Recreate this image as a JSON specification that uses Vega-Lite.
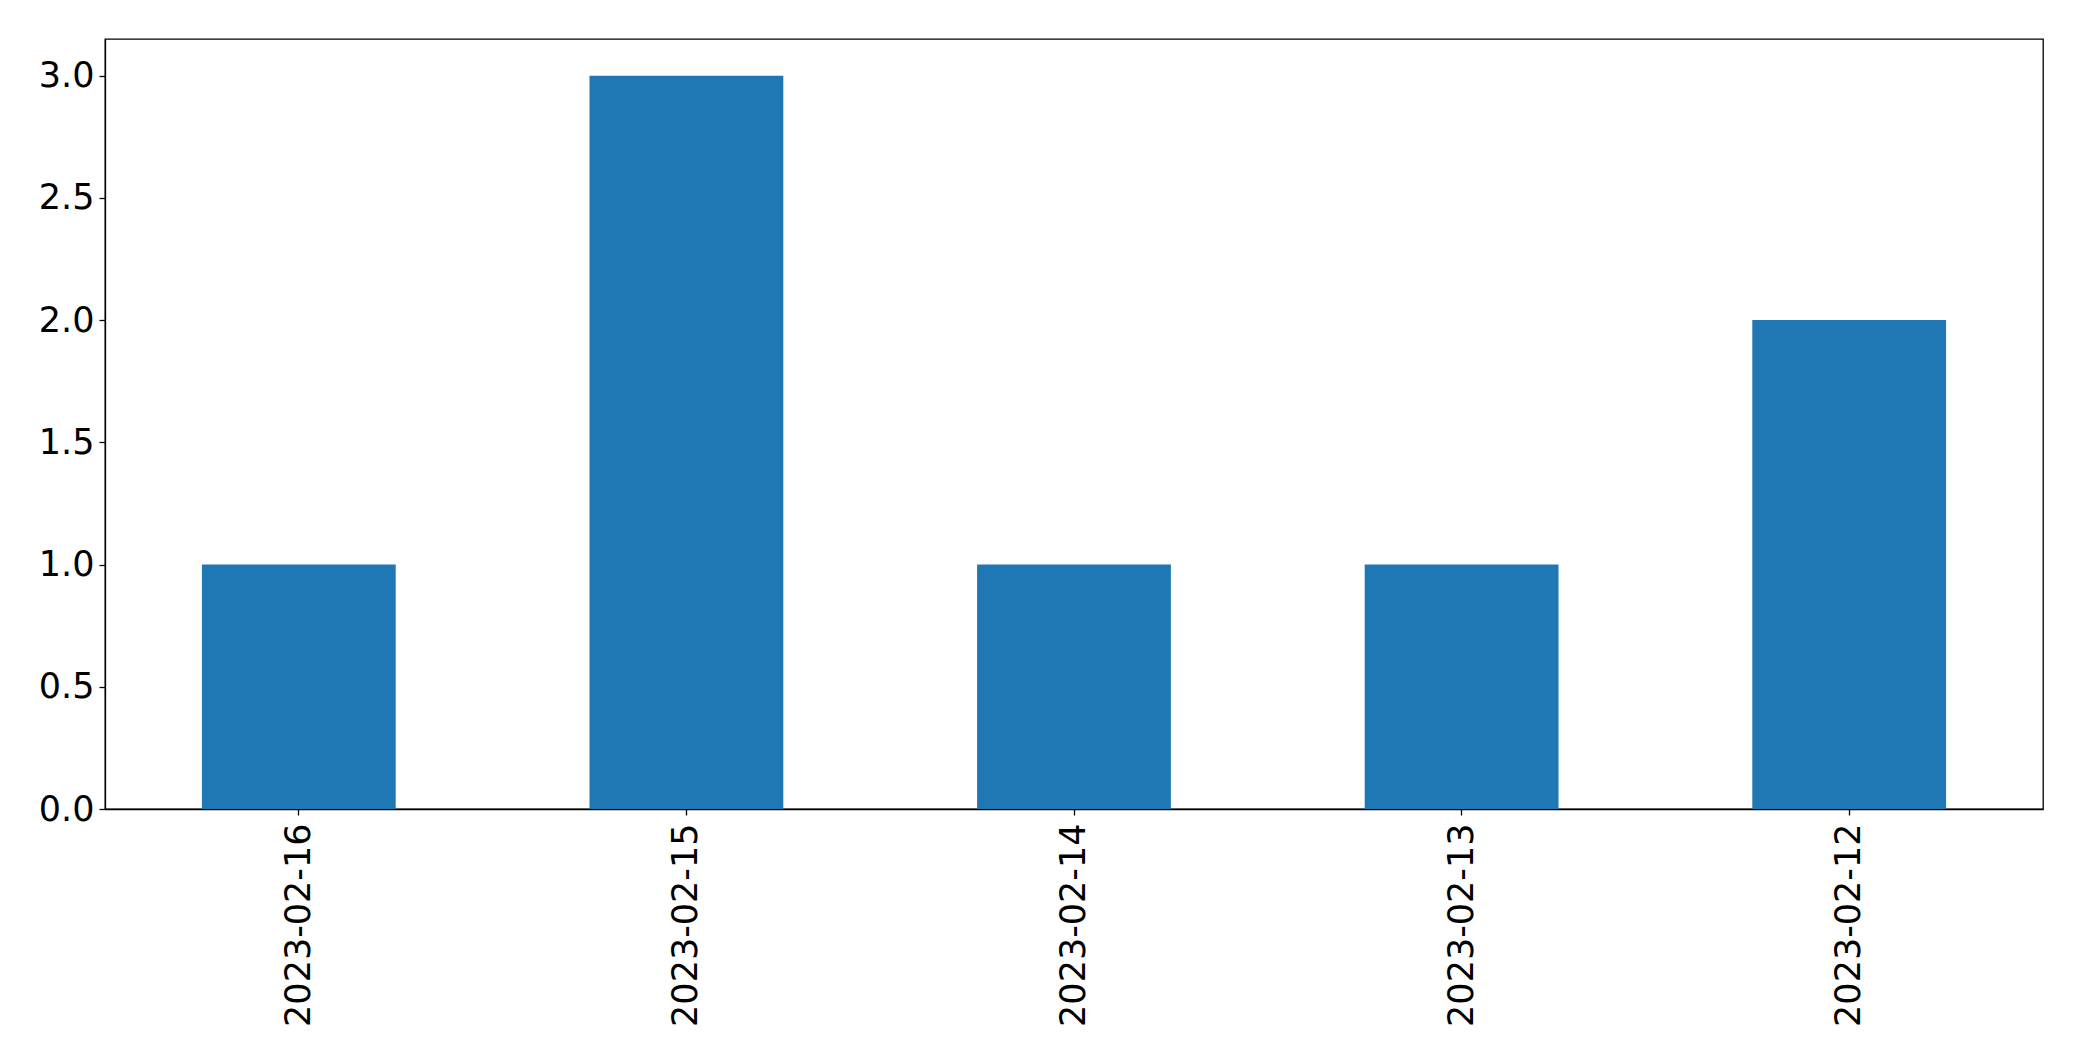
{
  "$schema": "https://vega.github.io/schema/vega-lite/v6.json",
  "width": 1938,
  "height": 770,
  "autosize": {"type": "none"},
  "padding": {"left": 105, "top": 39, "right": 39, "bottom": 252},
  "background": "white",
  "config": {
    "view": {"stroke": "black", "strokeWidth": 1.3},
    "font": "DejaVu Sans"
  },
  "data": {
    "values": [
      {"date": "2023-02-16", "count": 1},
      {"date": "2023-02-15", "count": 3},
      {"date": "2023-02-14", "count": 1},
      {"date": "2023-02-13", "count": 1},
      {"date": "2023-02-12", "count": 2}
    ]
  },
  "mark": {"type": "bar", "color": "#1f77b4"},
  "encoding": {
    "x": {
      "field": "date",
      "type": "nominal",
      "sort": null,
      "scale": {"paddingInner": 0.5, "paddingOuter": 0.25},
      "axis": {
        "title": null,
        "labelAngle": 270,
        "labelAlign": "right",
        "labelBaseline": "middle",
        "labelFontSize": 35,
        "labelFont": "DejaVu Sans",
        "labelColor": "black",
        "labelLimit": 0,
        "labelPadding": 8,
        "tickColor": "black",
        "tickSize": 6,
        "tickWidth": 1.3,
        "domainColor": "black",
        "domainWidth": 1.3
      }
    },
    "y": {
      "field": "count",
      "type": "quantitative",
      "scale": {"domain": [0, 3.15], "nice": false},
      "axis": {
        "title": null,
        "values": [0, 0.5, 1, 1.5, 2, 2.5, 3],
        "format": ".1f",
        "grid": false,
        "labelFontSize": 35,
        "labelFont": "DejaVu Sans",
        "labelColor": "black",
        "labelLimit": 0,
        "labelPadding": 5,
        "tickColor": "black",
        "tickSize": 6,
        "tickWidth": 1.3,
        "domainColor": "black",
        "domainWidth": 1.3
      }
    }
  }
}
